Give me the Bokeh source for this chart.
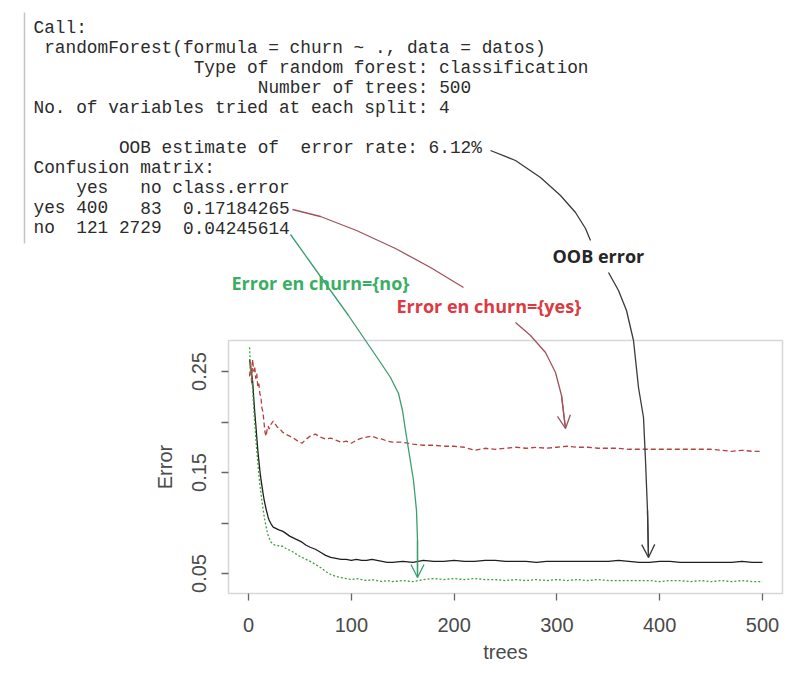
import re
from bokeh.plotting import figure
from bokeh.models import Range1d, FixedTicker, Label, Arrow, OpenHead, LinearAxis, BoxAnnotation
from bokeh.embed import file_html
from bokeh.resources import INLINE

# ---------------- data ----------------
trees = [1, 2, 3, 4, 5, 6, 7, 8, 9, 10, 11, 12, 13, 14, 15, 16, 17, 18, 19, 20,
         22, 24, 26, 28, 30, 33, 36, 40, 44, 48, 52, 56, 60, 65, 70, 75, 80, 85, 90, 95,
         100, 105, 110, 115, 120, 125, 130, 135, 140, 150, 160, 170, 180, 190, 200,
         210, 220, 230, 240, 250, 260, 270, 280, 290, 300, 310, 320, 330, 340, 350,
         360, 370, 380, 390, 400, 410, 420, 430, 440, 450, 460, 470, 480, 490, 500]

err_oob = [0.262, 0.255, 0.248, 0.240, 0.225, 0.210, 0.198, 0.185, 0.172, 0.162,
           0.152, 0.144, 0.137, 0.130, 0.124, 0.119, 0.114, 0.110, 0.106, 0.103,
           0.099, 0.096, 0.095, 0.094, 0.093, 0.092, 0.090, 0.087, 0.085, 0.083,
           0.081, 0.078, 0.076, 0.074, 0.071, 0.068, 0.066, 0.065, 0.064, 0.064,
           0.063, 0.064, 0.063, 0.063, 0.064, 0.063, 0.062, 0.061, 0.061, 0.062,
           0.061, 0.063, 0.062, 0.062, 0.063, 0.062, 0.062, 0.063, 0.063, 0.062,
           0.062, 0.062, 0.061, 0.062, 0.062, 0.062, 0.062, 0.062, 0.062, 0.062,
           0.063, 0.062, 0.061, 0.061, 0.062, 0.062, 0.061, 0.061, 0.061, 0.061,
           0.061, 0.061, 0.062, 0.061, 0.061]

err_yes = [0.245, 0.260, 0.238, 0.262, 0.250, 0.255, 0.243, 0.248, 0.235, 0.238,
           0.228, 0.225, 0.214, 0.210, 0.200, 0.190, 0.186, 0.192, 0.196, 0.193,
           0.198, 0.201, 0.198, 0.195, 0.194, 0.190, 0.188, 0.186, 0.184, 0.181,
           0.179, 0.183, 0.186, 0.188, 0.185, 0.183, 0.184, 0.182, 0.180, 0.181,
           0.179, 0.182, 0.184, 0.185, 0.186, 0.184, 0.183, 0.181, 0.180, 0.180,
           0.178, 0.177, 0.177, 0.176, 0.176, 0.175, 0.172, 0.174, 0.173, 0.174,
           0.175, 0.174, 0.175, 0.174, 0.175, 0.176, 0.175, 0.175, 0.174, 0.174,
           0.174, 0.173, 0.173, 0.173, 0.173, 0.173, 0.173, 0.173, 0.173, 0.173,
           0.172, 0.171, 0.172, 0.171, 0.171]

err_no = [0.274, 0.250, 0.245, 0.232, 0.215, 0.200, 0.185, 0.172, 0.160, 0.148,
          0.138, 0.130, 0.122, 0.115, 0.108, 0.102, 0.097, 0.092, 0.088, 0.085,
          0.081, 0.079, 0.078, 0.078, 0.077, 0.077, 0.075, 0.073, 0.071, 0.068,
          0.066, 0.064, 0.062, 0.059, 0.056, 0.052, 0.049, 0.047, 0.046, 0.045,
          0.044, 0.045, 0.044, 0.043, 0.044, 0.043, 0.042, 0.043, 0.042, 0.043,
          0.042, 0.044, 0.045, 0.044, 0.045, 0.044, 0.045, 0.044, 0.044, 0.043,
          0.044, 0.043, 0.044, 0.043, 0.044, 0.043, 0.044, 0.043, 0.044, 0.043,
          0.043, 0.043, 0.043, 0.043, 0.042, 0.043, 0.043, 0.042, 0.043, 0.042,
          0.043, 0.042, 0.043, 0.042, 0.042]

x_ticks = [0, 100, 200, 300, 400, 500]
y_ticks = [0.05, 0.10, 0.15, 0.20, 0.25]
y_tick_labels = ["0.05", "", "0.15", "", "0.25"]

console_lines = [
    "Call:",
    " randomForest(formula = churn ~ ., data = datos)",
    "               Type of random forest: classification",
    "                     Number of trees: 500",
    "No. of variables tried at each split: 4",
    "",
    "        OOB estimate of  error rate: 6.12%",
    "Confusion matrix:",
    "    yes   no class.error",
    "yes 400   83  0.17184265",
    "no  121 2729  0.04245614",
]

note_oob = "OOB error"
note_no = "Error en churn={no}"
note_yes = "Error en churn={yes}"

# ---------------- layout ----------------
W, H = 796, 675
# chart box inside the canvas (canvas px)
BL, BT, BR, BB = 228, 340, 14, 82
FW, FH = W - BL - BR, H - BT - BB
X0, X1 = -19.5, 519.5
Y0, Y1 = 0.0302, 0.2807
kx = (X1 - X0) / FW
ky = (Y1 - Y0) / FH

# default ranges = canvas pixels (y downwards); chart scales as extra ranges
p = figure(width=W, height=H, output_backend="svg", toolbar_location=None,
           x_range=Range1d(0, W), y_range=Range1d(H, 0),
           x_axis_type=None, y_axis_type=None, min_border=0)
p.extra_x_ranges = {"trees": Range1d(X0 - BL * kx, X1 + BR * kx)}
p.extra_y_ranges = {"err": Range1d(Y0 - BB * ky, Y1 + BT * ky)}
p.background_fill_color = "white"
p.border_fill_color = "white"
p.outline_line_color = None
p.grid.visible = False

# chart box
p.add_layout(BoxAnnotation(left=BL, right=W - BR, top=BT, bottom=H - BB,
                           fill_alpha=0, line_color="#7a7a7a", line_width=1.5))

axis_font = "Liberation Sans"
xax = LinearAxis(x_range_name="trees", fixed_location=H - BB, bounds=(X0, X1))
yax = LinearAxis(y_range_name="err", fixed_location=BL, bounds=(Y0, Y1))
for ax in (xax, yax):
    ax.axis_line_color = None
    ax.major_tick_in = 0
    ax.major_tick_out = 7
    ax.major_tick_line_color = "#666666"
    ax.major_tick_line_width = 1.3
    ax.minor_tick_line_color = None
    ax.major_label_text_font = axis_font
    ax.major_label_text_font_size = "20px"
    ax.major_label_text_color = "#4a4a4a"
    ax.axis_label_text_font = axis_font
    ax.axis_label_text_font_size = "20px"
    ax.axis_label_text_font_style = "normal"
    ax.axis_label_text_color = "#4a4a4a"

xax.ticker = FixedTicker(ticks=x_ticks)
xax.axis_label = "trees"
xax.major_label_standoff = 17
xax.axis_label_standoff = 6

yax.ticker = FixedTicker(ticks=y_ticks)
yax.major_label_overrides = {t: l for t, l in zip(y_ticks, y_tick_labels)}
yax.major_label_orientation = "vertical"
yax.axis_label = "Error"
yax.major_label_standoff = 15
yax.axis_label_standoff = 14
p.add_layout(xax, "below")
p.add_layout(yax, "left")

# series
p.line(trees, err_oob, line_color="#1e1e1e", line_width=1.3,
       x_range_name="trees", y_range_name="err")
p.line(trees, err_yes, line_color="#b5403f", line_width=1.3, line_dash="5 3",
       x_range_name="trees", y_range_name="err")
p.line(trees, err_no, line_color="#3aa03a", line_width=1.3, line_dash="2 2",
       x_range_name="trees", y_range_name="err")

# console text (monospace, each run of text placed at its column)
mono = "Liberation Mono"
mono_size = 17.8
char_w = 0.6 * mono_size
text_left, line0, line_step = 33, 27, 20
for i, line in enumerate(console_lines):
    for m in re.finditer(r"\S+(?: \S+)*", line):
        p.add_layout(Label(x=text_left + m.start() * char_w, y=line0 + i * line_step,
                           text=m.group(), text_font=mono,
                           text_font_size=f"{mono_size}px", text_color="#2b2b2b",
                           text_baseline="middle", text_align="left"))

# left console bar
p.line([24, 24], [12, 243], line_color="#c4c4c4", line_width=1.5)

# annotation labels
for txt, px, py, col in [(note_oob, 552, 255, "#262626"),
                         (note_no, 231, 282, "#3cae64"),
                         (note_yes, 396, 305, "#dc3a42")]:
    p.add_layout(Label(x=px, y=py, text=txt, text_font="Open Sans",
                       text_font_style="bold", text_font_size="18px",
                       text_color=col, text_baseline="middle", text_align="left"))


def curve(points, color, head):
    p.line([q[0] for q in points], [q[1] for q in points], line_color=color,
           line_width=1.3, line_join="round")
    if head:
        (xa, ya), (xb, yb) = points[-2], points[-1]
        p.add_layout(Arrow(x_start=xa, y_start=ya, x_end=xb, y_end=yb,
                           end=OpenHead(size=13, line_color=color, line_width=1.3),
                           line_color=color, line_width=1.3))


curve([(490, 150), (515, 160), (540, 177), (560, 195), (575, 212), (585, 228), (590, 240)],
      "#3a3a3a", False)
curve([(608, 272), (618, 290), (626, 310), (633, 340), (638, 387), (643, 417),
       (645, 460), (647, 510), (648, 557)], "#3a3a3a", True)
curve([(292, 209), (320, 216), (356, 230), (395, 248), (430, 267), (463, 287)],
      "#a0525e", False)
curve([(515, 322), (530, 335), (545, 352), (555, 372), (561, 395), (565, 428)],
      "#a0525e", True)
curve([(290, 234), (310, 262), (330, 290), (348, 315), (365, 340), (380, 362),
       (390, 377), (398, 393), (402, 410), (405, 430), (409, 455), (413, 480),
       (416, 510), (417, 540), (417, 577)], "#3a9e70", True)

open("out.html", "w").write(file_html(p, INLINE))
